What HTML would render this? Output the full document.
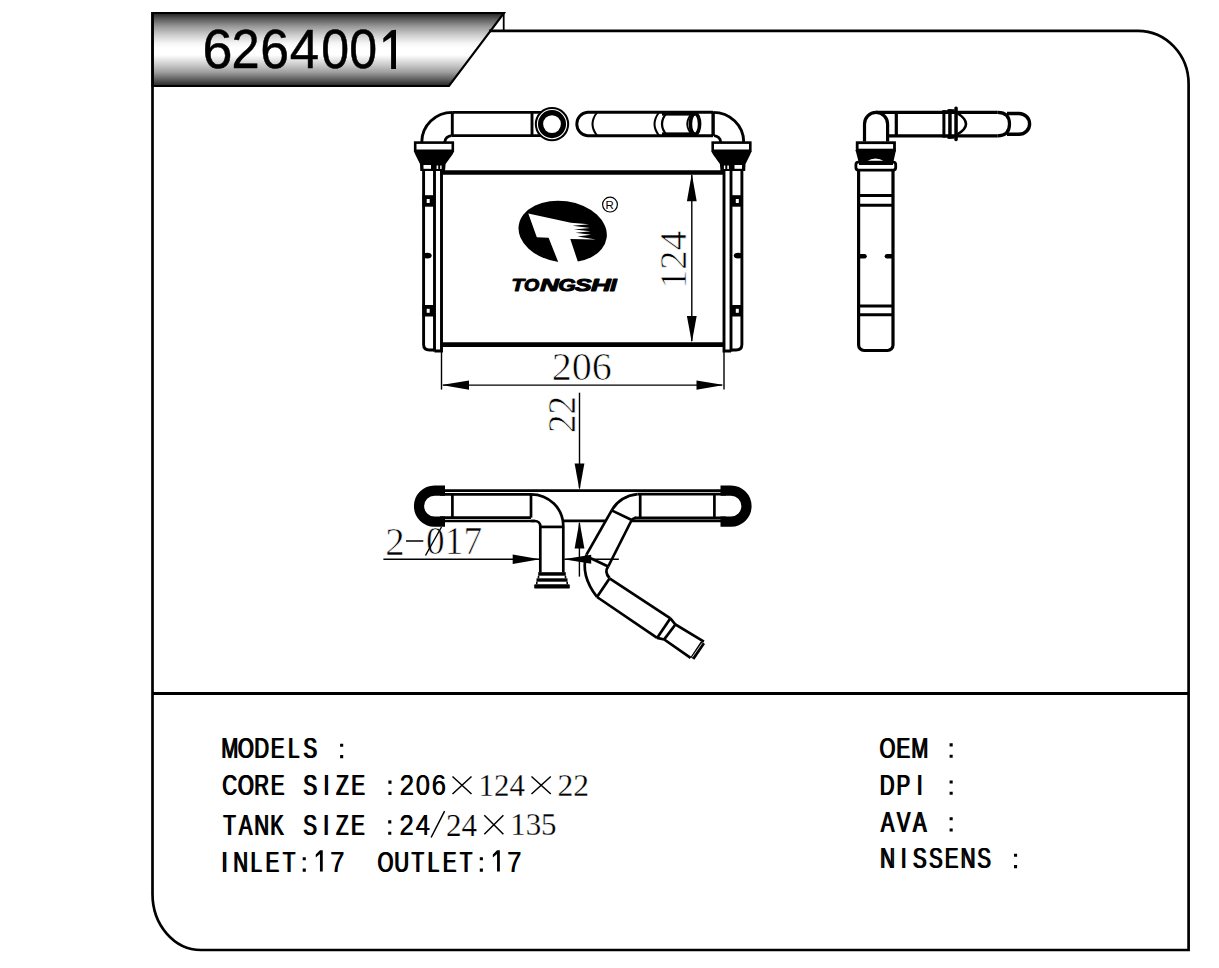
<!DOCTYPE html>
<html><head><meta charset="utf-8"><title>6264001</title>
<style>html,body{margin:0;padding:0;background:#fff;overflow:hidden;width:1219px;height:968px}svg{display:block}</style>
</head><body>
<svg width="1219" height="968" viewBox="0 0 1219 968">
<rect width="1219" height="968" fill="#fff"/>
<defs>
<linearGradient id="bg" x1="0" y1="0" x2="0" y2="1">
<stop offset="0.014" stop-color="#2a2a2a"/>
<stop offset="0.073" stop-color="#555555"/>
<stop offset="0.129" stop-color="#777777"/>
<stop offset="0.185" stop-color="#999999"/>
<stop offset="0.299" stop-color="#cccccc"/>
<stop offset="0.411" stop-color="#f4f4f4"/>
<stop offset="0.479" stop-color="#ffffff"/>
<stop offset="0.575" stop-color="#ffffff"/>
<stop offset="0.695" stop-color="#d0d0d0"/>
<stop offset="0.808" stop-color="#a0a0a0"/>
<stop offset="0.918" stop-color="#5a5a5a"/>
<stop offset="0.978" stop-color="#333333"/>
<stop offset="1.000" stop-color="#222222"/>
</linearGradient>
</defs>
<polygon points="152.5,13 504,13 449,86 152.5,86" fill="url(#bg)" stroke="#000" stroke-width="2.1" stroke-linejoin="miter"/>
<g fill="none" stroke="#000">
<path d="M489 30.8 H1138 A50.6 53.2 0 0 1 1188.6 84 V950 H201 A48.5 56 0 0 1 152.5 894 V12" stroke-width="2.7"/>
<line x1="503.7" y1="13" x2="503.7" y2="30.8" stroke-width="1.8"/>
<line x1="152.5" y1="693.4" x2="1188.6" y2="693.4" stroke-width="3"/>
</g>
<g><path d="M421.8 142 A30.5 29.6 0 0 1 452.3 112.4" stroke-width="2.9" stroke="#000" fill="none"/><path d="M444.9 142 A7 6.4 0 0 1 451.6 135.6" stroke-width="2.9" stroke="#000" fill="none"/><line x1="452.3" y1="112.4" x2="452.3" y2="135.6" stroke-width="2.9" stroke="#000"/><path d="M414 151.5 L454 151.5 L452.5 154.5 L445.6 164 L445 171 L420.3 171 L420 164 L415.5 155 Z" fill="#000"/><rect x="415.2" y="142.6" width="37.6" height="8.2" fill="#fff" stroke="#000" stroke-width="2.6"/><rect x="423.5" y="165" width="7.5" height="3.8" fill="#fff"/><rect x="436.6" y="165.5" width="1.6" height="3.5" fill="#fff"/><rect x="440.2" y="165.5" width="1.4" height="3.5" fill="#fff"/><path d="M423.6 171 V344.5 Q423.6 350 429.5 350 H434.5" stroke-width="2.9" stroke="#000" fill="none"/><line x1="434.5" y1="171" x2="434.5" y2="351.5" stroke-width="2.9" stroke="#000"/><path d="M434.5 351 H441.5 V171" stroke-width="2.9" stroke="#000" fill="none"/><rect x="422.5" y="195.2" width="12" height="11.5" fill="#000"/><rect x="426.7" y="199.0" width="3" height="4" fill="#fff"/><rect x="422.5" y="305" width="12" height="11.5" fill="#000"/><rect x="426.7" y="308.8" width="3" height="4" fill="#fff"/><ellipse cx="427.3" cy="255.6" rx="4.4" ry="2.9" fill="#000"/></g>
<g transform="translate(1165.5,0) scale(-1,1)"><path d="M421.8 142 A30.5 29.6 0 0 1 452.3 112.4" stroke-width="2.9" stroke="#000" fill="none"/><path d="M444.9 142 A7 6.4 0 0 1 451.6 135.6" stroke-width="2.9" stroke="#000" fill="none"/><line x1="452.3" y1="112.4" x2="452.3" y2="135.6" stroke-width="2.9" stroke="#000"/><path d="M414 151.5 L454 151.5 L452.5 154.5 L445.6 164 L445 171 L420.3 171 L420 164 L415.5 155 Z" fill="#000"/><rect x="415.2" y="142.6" width="37.6" height="8.2" fill="#fff" stroke="#000" stroke-width="2.6"/><rect x="423.5" y="165" width="7.5" height="3.8" fill="#fff"/><rect x="436.6" y="165.5" width="1.6" height="3.5" fill="#fff"/><rect x="440.2" y="165.5" width="1.4" height="3.5" fill="#fff"/><path d="M423.6 171 V344.5 Q423.6 350 429.5 350 H434.5" stroke-width="2.9" stroke="#000" fill="none"/><line x1="434.5" y1="171" x2="434.5" y2="351.5" stroke-width="2.9" stroke="#000"/><path d="M434.5 351 H441.5 V171" stroke-width="2.9" stroke="#000" fill="none"/><rect x="422.5" y="195.2" width="12" height="11.5" fill="#000"/><rect x="426.7" y="199.0" width="3" height="4" fill="#fff"/><rect x="422.5" y="305" width="12" height="11.5" fill="#000"/><rect x="426.7" y="308.8" width="3" height="4" fill="#fff"/><ellipse cx="427.3" cy="255.6" rx="4.4" ry="2.9" fill="#000"/></g>
<line x1="440.5" y1="172.5" x2="725" y2="172.5" stroke="#000" stroke-width="4.6"/>
<line x1="440.5" y1="344.6" x2="725" y2="344.6" stroke="#000" stroke-width="4.6"/>
<line x1="452.3" y1="112.4" x2="545" y2="112.4" stroke="#000" stroke-width="2.9"/>
<line x1="451.6" y1="135.6" x2="545" y2="135.6" stroke="#000" stroke-width="2.9"/>
<line x1="532" y1="112.4" x2="532" y2="135.6" stroke="#000" stroke-width="2.9"/>
<circle cx="552" cy="124.1" r="17.2" fill="#000"/>
<circle cx="552" cy="124.1" r="14.6" fill="none" stroke="#fff" stroke-width="1.1"/>
<circle cx="552" cy="124.1" r="8.9" fill="#fff"/>
<path d="M713 112.2 H587.5 A11.8 11.8 0 0 0 587.5 135.7 H713" stroke-width="2.9" stroke="#000" fill="none"/>
<line x1="713" y1="112.2" x2="713" y2="135.7" stroke="#000" stroke-width="2.9"/>
<path d="M597 112.5 Q588 124 597 135.5" stroke-width="2" stroke="#000" fill="none"/>
<path d="M659 112.5 Q650 124 659 135.5" stroke-width="2" stroke="#000" fill="none"/>
<path d="M667 112.5 Q657 124 667 135.5" stroke-width="2.2" stroke="#000" fill="none"/>
<rect x="662" y="111" width="33" height="4.6" fill="#000"/>
<rect x="662" y="132.4" width="33" height="4.6" fill="#000"/>
<ellipse cx="695" cy="124" rx="4.6" ry="10.3" stroke="#000" fill="none" stroke-width="3.6"/>
<path d="M692 113.2 Q682.5 124 692 134.8" stroke-width="1.8" stroke="#000" fill="none"/>
<line x1="691.8" y1="175" x2="691.8" y2="341" stroke="#000" stroke-width="1.4"/>
<polygon points="691.8,173.8 686.9,201.3 696.7,201.3" fill="#000"/>
<polygon points="691.8,342.6 686.9,316 696.7,316" fill="#000"/>
<text transform="translate(686.3,285.6) rotate(-90) translate(-3.4,0) scale(1.004,1)" font-family="Liberation Serif" font-size="38.51" fill="#000" stroke="#fff" stroke-width="0.7" paint-order="fill" style="paint-order:fill stroke">124</text>
<line x1="441.5" y1="352" x2="441.5" y2="389.6" stroke="#000" stroke-width="1.4"/>
<line x1="724" y1="352" x2="724" y2="389.6" stroke="#000" stroke-width="1.4"/>
<line x1="443" y1="385.1" x2="722" y2="385.1" stroke="#000" stroke-width="1.4"/>
<polygon points="441.5,385.1 469,380.4 469,389.8" fill="#000"/>
<polygon points="724,385.1 696.5,380.4 696.5,389.8" fill="#000"/>
<text transform="translate(551.63,380.31) scale(1.0154,1)" font-family="Liberation Serif" font-size="39.57" fill="#000" stroke="#fff" stroke-width="0.7" paint-order="fill" style="paint-order:fill stroke">206</text>
<line x1="579.5" y1="392.7" x2="579.5" y2="488" stroke="#000" stroke-width="1.4"/>
<polygon points="579.5,490.3 574.6,463.4 584.4,463.4" fill="#000"/>
<text transform="translate(574.5,431.3) rotate(-90) translate(-1.62,0) scale(0.9166,1)" font-family="Liberation Serif" font-size="40.33" fill="#000" stroke="#fff" stroke-width="0.7" paint-order="fill" style="paint-order:fill stroke">22</text>
<ellipse cx="562.7" cy="231.6" rx="44.4" ry="30.6" transform="rotate(8 562.7 231.6)" fill="#000"/>
<path d="M528.3 213.5 L570.9 222.7 L589 224.3 L572.5 225.8 L590 227.9 L574 229.4 L590.5 231.3 L575.5 232.8 L591 234.8 L577.5 236.4 L596 239.4 L570.3 239.1 L579.3 266 L559.8 266 L548.6 237.8 L536.8 237.2 Z" fill="#fff"/>
<circle cx="610" cy="204.6" r="7.4" fill="none" stroke="#000" stroke-width="1.2"/>
<text x="605.6" y="208.9" font-family="Liberation Sans" font-size="11.5" fill="#000">R</text>
<g font-family="Liberation Sans" font-weight="bold" font-style="italic" fill="#000" stroke="#000" stroke-width="1.0" stroke-linejoin="round" font-size="17.0"><text transform="translate(511.55,290.6) scale(1.213,1)">T</text><text transform="translate(524.02,290.6) scale(1.152,1)">O</text><text transform="translate(539.91,290.6) scale(1.537,1)">N</text><text transform="translate(558.36,290.6) scale(1.321,1)">G</text><text transform="translate(574.64,290.6) scale(1.489,1)">S</text><text transform="translate(591.12,290.6) scale(1.613,1)">H</text><text transform="translate(609.89,290.6) scale(1.417,1)">I</text></g>
<line x1="440" y1="490.7" x2="726" y2="490.7" stroke="#000" fill="none" stroke-width="2.7"/>
<path d="M445 490.6 H434.5 A15.5 15.5 0 0 0 434.5 521.6 H445" stroke="#000" fill="none" stroke-width="10.2"/>
<path d="M445 490.6 H434.5 A15.5 15.5 0 0 0 434.5 521.6 H445" stroke="#000" fill="none" stroke-width="10.2" transform="translate(1165.5,0) scale(-1,1)"/>
<line x1="440" y1="494.3" x2="531" y2="494.3" stroke="#000" fill="none" stroke-width="2.7"/>
<line x1="440" y1="517.6" x2="531" y2="517.6" stroke="#000" fill="none" stroke-width="2.7"/>
<line x1="440" y1="521" x2="535" y2="521" stroke="#000" fill="none" stroke-width="2.7"/>
<line x1="452.4" y1="494.3" x2="452.4" y2="517.6" stroke="#000" fill="none" stroke-width="2.7"/>
<line x1="531" y1="494.3" x2="531" y2="517.6" stroke="#000" fill="none" stroke-width="2.7"/>
<path d="M531 494.3 A32.3 31.7 0 0 1 563.3 526 V572.4" stroke="#000" fill="none" stroke-width="2.7"/>
<path d="M531 521 H535 A5.3 5.3 0 0 1 540.3 526.3 V572.4" stroke="#000" fill="none" stroke-width="2.7"/>
<line x1="540.3" y1="526.9" x2="563.3" y2="526.9" stroke="#000" fill="none" stroke-width="2.7"/>
<rect x="538.2" y="572.2" width="27.6" height="3.5" fill="#000"/>
<rect x="538.2" y="572.2" width="27.6" height="16" fill="none" stroke="#000" stroke-width="0"/>
<path d="M538.5 575.7 V578.3 M565.5 575.7 V578.3" stroke="#000" stroke-width="1.6"/>
<rect x="536.5" y="578.3" width="31" height="3.4" fill="#000"/>
<path d="M536.8 581.7 V584.3 M567.2 581.7 V584.3" stroke="#000" stroke-width="1.6"/>
<rect x="534.2" y="584.3" width="35.6" height="4.3" rx="1.2" fill="#000"/>
<line x1="563.3" y1="520.9" x2="605.5" y2="520.9" stroke="#000" fill="none" stroke-width="2.7"/>
<line x1="637.6" y1="494.2" x2="726" y2="494.2" stroke="#000" fill="none" stroke-width="2.7"/>
<line x1="640.2" y1="494.2" x2="640.2" y2="517.8" stroke="#000" fill="none" stroke-width="2.7"/>
<line x1="714.4" y1="494.2" x2="714.4" y2="517.8" stroke="#000" fill="none" stroke-width="2.7"/>
<line x1="634.6" y1="517.8" x2="726" y2="517.8" stroke="#000" fill="none" stroke-width="2.7"/>
<line x1="630" y1="520.8" x2="726" y2="520.8" stroke="#000" fill="none" stroke-width="2.7"/>
<path d="M637.6 494.2 A34 30 0 0 0 611.7 510.4" stroke="#000" fill="none" stroke-width="2.7"/>
<line x1="611.7" y1="510.4" x2="631.7" y2="520" stroke="#000" fill="none" stroke-width="2.7"/>
<path d="M636 517.8 Q632.5 518.5 631.7 520.5" stroke="#000" fill="none" stroke-width="2.7"/>
<line x1="611.7" y1="510.4" x2="586.5" y2="554.6" stroke="#000" fill="none" stroke-width="2.7"/>
<line x1="631.7" y1="520" x2="608.2" y2="566.5" stroke="#000" fill="none" stroke-width="2.7"/>
<line x1="590.7" y1="558.2" x2="608.2" y2="566.5" stroke="#000" fill="none" stroke-width="2.7"/>
<path d="M586.5 554.6 Q580 575 597 597" stroke="#000" fill="none" stroke-width="2.7"/>
<path d="M608.2 566.5 Q604 572 609.5 578" stroke="#000" fill="none" stroke-width="2.7"/>
<line x1="597" y1="597" x2="609.5" y2="578.5" stroke="#000" fill="none" stroke-width="2.7"/>
<line x1="609.5" y1="578.3" x2="670.4" y2="618.3" stroke="#000" fill="none" stroke-width="2.7"/>
<line x1="597" y1="597" x2="657.1" y2="637.9" stroke="#000" fill="none" stroke-width="2.7"/>
<line x1="657.1" y1="637.9" x2="670.4" y2="618.3" stroke="#000" fill="none" stroke-width="2.7"/>
<polyline points="670.4,618.3 675.4,624.5 703.9,641.6" stroke="#000" fill="none" stroke-width="2.7"/>
<polyline points="657.1,637.9 664.2,639.4 690.6,657.9" stroke="#000" fill="none" stroke-width="2.7"/>
<line x1="664.2" y1="639.4" x2="675.4" y2="624.5" stroke="#000" fill="none" stroke-width="2.7"/>
<line x1="703" y1="642.6" x2="692.4" y2="658.5" stroke="#000" stroke-width="4.8"/>
<line x1="702" y1="643.2" x2="692.2" y2="657.3" stroke="#fff" stroke-width="0.8"/>
<line x1="579.4" y1="523" x2="579.4" y2="576.6" stroke="#000" stroke-width="1.4"/>
<polygon points="579.5,521.2 574.6,548.6 584.4,548.6" fill="#000"/>
<path d="M383.4 559.2 H539 M564.5 559.2 H618.8" stroke="#000" stroke-width="1.4" fill="none"/>
<polygon points="540,559.2 512.7,554.5 512.7,563.9" fill="#000"/>
<polygon points="563.5,559.2 591.2,554.7 591.2,563.7" fill="#000"/>
<text transform="translate(385.19,554.7) scale(0.9508,1)" font-family="Liberation Serif" font-size="40.93" fill="#000" stroke="#fff" stroke-width="0.7" paint-order="fill" style="paint-order:fill stroke">2</text>
<line x1="406" y1="541" x2="423.3" y2="541" stroke="#000" stroke-width="1.5"/>
<text transform="translate(426.08,554.31) scale(0.9296,1)" font-family="Liberation Serif" font-size="40.16" fill="#000" stroke="#fff" stroke-width="0.7" paint-order="fill" style="paint-order:fill stroke">017</text>
<line x1="425.5" y1="555.5" x2="441.5" y2="527" stroke="#000" stroke-width="1.4"/>
<path d="M864.5 141.5 V124 A11.55 11.55 0 0 1 876 112.4 H997.7" stroke="#000" fill="none" stroke-width="3.2"/>
<path d="M887.6 141.5 V124 A11.55 11.55 0 0 0 876 112.4" stroke="#000" fill="none" stroke-width="3.2"/>
<line x1="887.6" y1="135.8" x2="997.7" y2="135.8" stroke="#000" fill="none" stroke-width="3.2"/>
<line x1="896.3" y1="112.4" x2="896.3" y2="135.8" stroke="#000" fill="none" stroke-width="3.2"/>
<rect x="942.4" y="110.4" width="3" height="26.9" fill="#000"/>
<rect x="948.2" y="109.3" width="3.5" height="29.3" fill="#000"/>
<rect x="954.3" y="106.5" width="3.5" height="34.7" rx="1.6" fill="#000"/>
<path d="M942.4 111.3 H948.5 V110.2 H954.5 M942.4 136.4 H948.5 V137.7 H954.5" stroke="#000" fill="none" stroke-width="2"/>
<path d="M957 113 Q975 124 957 134.5" stroke="#000" fill="none" stroke-width="2.6"/>
<path d="M997.7 112.4 Q1009.5 112.5 1009.5 124 Q1009.5 135.8 997.7 135.8" stroke="#000" fill="none" stroke-width="3.2"/>
<path d="M1007 113.5 H1019 A10.6 10.4 0 0 1 1019 134.3 H1007" stroke="#000" fill="none" stroke-width="3.4"/>
<path d="M855.5 150 H896 L893.5 161.5 H884.5 Q875.5 155.5 866.5 161.5 H858.5 Z" fill="#000"/>
<rect x="857.2" y="142.7" width="37.3" height="7.4" fill="#fff" stroke="#000" stroke-width="2.8"/>
<rect x="855.9" y="162.1" width="39.8" height="8" rx="2.5" fill="#fff" stroke="#000" stroke-width="2.8"/>
<rect x="859" y="161" width="34" height="4" fill="#000"/>
<path d="M858.6 170 V345 A5.5 5.5 0 0 0 864.1 350.5 H887.5 A5.5 5.5 0 0 0 893 345 V170" stroke="#000" fill="none" stroke-width="3.2"/>
<line x1="858.6" y1="195.5" x2="893" y2="195.5" stroke="#000" stroke-width="3.1"/>
<line x1="858.6" y1="205.3" x2="893" y2="205.3" stroke="#000" stroke-width="3.1"/>
<line x1="858.6" y1="306" x2="893" y2="306" stroke="#000" stroke-width="3.1"/>
<line x1="858.6" y1="314.7" x2="893" y2="314.7" stroke="#000" stroke-width="3.1"/>
<path d="M860 256.3 H864.5" stroke="#000" stroke-width="4.6" stroke-linecap="round"/>
<path d="M887 256.3 H891.5" stroke="#000" stroke-width="4.6" stroke-linecap="round"/>
<path d="M340.10 743.75h3.1v3.1h-3.1z M340.10 755.05h3.1v3.1h-3.1z" fill="#000"/>
<g transform="translate(-0.65,0)" font-family="Liberation Sans" font-size="30.4" fill="#000"><text transform="translate(221.33,758.1) scale(0.665,1)">M</text><text transform="translate(237.99,758.1) scale(0.665,1)">O</text><text transform="translate(254.3,758.1) scale(0.665,1)">D</text><text transform="translate(270.91,758.1) scale(0.665,1)">E</text><text transform="translate(288.03,758.1) scale(0.665,1)">L</text><text transform="translate(303.51,758.1) scale(0.665,1)">S</text></g>
<g transform="translate(0.65,0)" font-family="Liberation Sans" font-size="30.4" fill="#000"><text transform="translate(221.33,758.1) scale(0.665,1)">M</text><text transform="translate(237.99,758.1) scale(0.665,1)">O</text><text transform="translate(254.3,758.1) scale(0.665,1)">D</text><text transform="translate(270.91,758.1) scale(0.665,1)">E</text><text transform="translate(288.03,758.1) scale(0.665,1)">L</text><text transform="translate(303.51,758.1) scale(0.665,1)">S</text></g>
<path d="M388.40 780.55h3.1v3.1h-3.1z M388.40 791.85h3.1v3.1h-3.1z" fill="#000"/>
<g transform="translate(-0.65,0)" font-family="Liberation Sans" font-size="30.4" fill="#000"><text transform="translate(222.32,794.9) scale(0.665,1)">C</text><text transform="translate(237.99,794.9) scale(0.665,1)">O</text><text transform="translate(254.29,794.9) scale(0.665,1)">R</text><text transform="translate(270.91,794.9) scale(0.665,1)">E</text><text transform="translate(303.51,794.9) scale(0.665,1)">S</text><text transform="translate(323.54,794.9) scale(0.665,1)">I</text><text transform="translate(336.27,794.9) scale(0.665,1)">Z</text><text transform="translate(351.41,794.9) scale(0.665,1)">E</text></g>
<g transform="translate(0.65,0)" font-family="Liberation Sans" font-size="30.4" fill="#000"><text transform="translate(222.32,794.9) scale(0.665,1)">C</text><text transform="translate(237.99,794.9) scale(0.665,1)">O</text><text transform="translate(254.29,794.9) scale(0.665,1)">R</text><text transform="translate(270.91,794.9) scale(0.665,1)">E</text><text transform="translate(303.51,794.9) scale(0.665,1)">S</text><text transform="translate(323.54,794.9) scale(0.665,1)">I</text><text transform="translate(336.27,794.9) scale(0.665,1)">Z</text><text transform="translate(351.41,794.9) scale(0.665,1)">E</text></g>
<g transform="translate(-0.25,0)" font-family="Liberation Sans" font-size="30.4" fill="#000"><text transform="translate(399.75,794.9) scale(0.84,1)">2</text><text transform="translate(415.85,794.9) scale(0.84,1)">0</text><text transform="translate(431.86,794.9) scale(0.84,1)">6</text></g>
<g transform="translate(0.25,0)" font-family="Liberation Sans" font-size="30.4" fill="#000"><text transform="translate(399.75,794.9) scale(0.84,1)">2</text><text transform="translate(415.85,794.9) scale(0.84,1)">0</text><text transform="translate(431.86,794.9) scale(0.84,1)">6</text></g>
<path d="M388.20 820.35h3.1v3.1h-3.1z M388.20 831.65h3.1v3.1h-3.1z" fill="#000"/>
<g transform="translate(-0.65,0)" font-family="Liberation Sans" font-size="30.4" fill="#000"><text transform="translate(223.38,834.7) scale(0.665,1)">T</text><text transform="translate(238.91,834.7) scale(0.665,1)">A</text><text transform="translate(254.45,834.7) scale(0.665,1)">N</text><text transform="translate(270.39,834.7) scale(0.665,1)">K</text><text transform="translate(303.31,834.7) scale(0.665,1)">S</text><text transform="translate(323.34,834.7) scale(0.665,1)">I</text><text transform="translate(336.07,834.7) scale(0.665,1)">Z</text><text transform="translate(351.21,834.7) scale(0.665,1)">E</text></g>
<g transform="translate(0.65,0)" font-family="Liberation Sans" font-size="30.4" fill="#000"><text transform="translate(223.38,834.7) scale(0.665,1)">T</text><text transform="translate(238.91,834.7) scale(0.665,1)">A</text><text transform="translate(254.45,834.7) scale(0.665,1)">N</text><text transform="translate(270.39,834.7) scale(0.665,1)">K</text><text transform="translate(303.31,834.7) scale(0.665,1)">S</text><text transform="translate(323.34,834.7) scale(0.665,1)">I</text><text transform="translate(336.07,834.7) scale(0.665,1)">Z</text><text transform="translate(351.21,834.7) scale(0.665,1)">E</text></g>
<g transform="translate(-0.25,0)" font-family="Liberation Sans" font-size="30.4" fill="#000"><text transform="translate(399.55,834.7) scale(0.84,1)">2</text><text transform="translate(415.73,834.7) scale(0.84,1)">4</text></g>
<g transform="translate(0.25,0)" font-family="Liberation Sans" font-size="30.4" fill="#000"><text transform="translate(399.55,834.7) scale(0.84,1)">2</text><text transform="translate(415.73,834.7) scale(0.84,1)">4</text></g>
<path d="M302.70 857.25h3.1v3.1h-3.1z M302.70 868.55h3.1v3.1h-3.1z" fill="#000"/>
<path d="M319.95 850.30 H322.75 V871.60 H319.95 V854.00 L315.75 857.40 V854.60 Z" fill="#000"/>
<path d="M479.80 857.25h3.1v3.1h-3.1z M479.80 868.55h3.1v3.1h-3.1z" fill="#000"/>
<path d="M497.05 850.30 H499.85 V871.60 H497.05 V854.00 L492.85 857.40 V854.60 Z" fill="#000"/>
<g transform="translate(-0.65,0)" font-family="Liberation Sans" font-size="30.4" fill="#000"><text transform="translate(221.74,871.6) scale(0.665,1)">I</text><text transform="translate(233.35,871.6) scale(0.665,1)">N</text><text transform="translate(250.63,871.6) scale(0.665,1)">L</text><text transform="translate(265.71,871.6) scale(0.665,1)">E</text><text transform="translate(282.78,871.6) scale(0.665,1)">T</text><text transform="translate(377.69,871.6) scale(0.665,1)">O</text><text transform="translate(394.35,871.6) scale(0.665,1)">U</text><text transform="translate(411.58,871.6) scale(0.665,1)">T</text><text transform="translate(427.73,871.6) scale(0.665,1)">L</text><text transform="translate(442.81,871.6) scale(0.665,1)">E</text><text transform="translate(459.88,871.6) scale(0.665,1)">T</text></g>
<g transform="translate(0.65,0)" font-family="Liberation Sans" font-size="30.4" fill="#000"><text transform="translate(221.74,871.6) scale(0.665,1)">I</text><text transform="translate(233.35,871.6) scale(0.665,1)">N</text><text transform="translate(250.63,871.6) scale(0.665,1)">L</text><text transform="translate(265.71,871.6) scale(0.665,1)">E</text><text transform="translate(282.78,871.6) scale(0.665,1)">T</text><text transform="translate(377.69,871.6) scale(0.665,1)">O</text><text transform="translate(394.35,871.6) scale(0.665,1)">U</text><text transform="translate(411.58,871.6) scale(0.665,1)">T</text><text transform="translate(427.73,871.6) scale(0.665,1)">L</text><text transform="translate(442.81,871.6) scale(0.665,1)">E</text><text transform="translate(459.88,871.6) scale(0.665,1)">T</text></g>
<g transform="translate(-0.25,0)" font-family="Liberation Sans" font-size="30.4" fill="#000"><text transform="translate(330.14,871.6) scale(0.84,1)">7</text><text transform="translate(507.24,871.6) scale(0.84,1)">7</text></g>
<g transform="translate(0.25,0)" font-family="Liberation Sans" font-size="30.4" fill="#000"><text transform="translate(330.14,871.6) scale(0.84,1)">7</text><text transform="translate(507.24,871.6) scale(0.84,1)">7</text></g>
<path d="M949.60 743.35h3.1v3.1h-3.1z M949.60 754.65h3.1v3.1h-3.1z" fill="#000"/>
<g transform="translate(-0.65,0)" font-family="Liberation Sans" font-size="30.4" fill="#000"><text transform="translate(879.69,757.7) scale(0.665,1)">O</text><text transform="translate(896.51,757.7) scale(0.665,1)">E</text><text transform="translate(911.33,757.7) scale(0.665,1)">M</text></g>
<g transform="translate(0.65,0)" font-family="Liberation Sans" font-size="30.4" fill="#000"><text transform="translate(879.69,757.7) scale(0.665,1)">O</text><text transform="translate(896.51,757.7) scale(0.665,1)">E</text><text transform="translate(911.33,757.7) scale(0.665,1)">M</text></g>
<path d="M949.60 780.45h3.1v3.1h-3.1z M949.60 791.75h3.1v3.1h-3.1z" fill="#000"/>
<g transform="translate(-0.65,0)" font-family="Liberation Sans" font-size="30.4" fill="#000"><text transform="translate(879.9,794.8) scale(0.665,1)">D</text><text transform="translate(896.61,794.8) scale(0.665,1)">P</text><text transform="translate(916.94,794.8) scale(0.665,1)">I</text></g>
<g transform="translate(0.65,0)" font-family="Liberation Sans" font-size="30.4" fill="#000"><text transform="translate(879.9,794.8) scale(0.665,1)">D</text><text transform="translate(896.61,794.8) scale(0.665,1)">P</text><text transform="translate(916.94,794.8) scale(0.665,1)">I</text></g>
<path d="M949.60 817.15h3.1v3.1h-3.1z M949.60 828.45h3.1v3.1h-3.1z" fill="#000"/>
<g transform="translate(-0.65,0)" font-family="Liberation Sans" font-size="30.4" fill="#000"><text transform="translate(880.81,831.5) scale(0.665,1)">A</text><text transform="translate(896.91,831.5) scale(0.665,1)">V</text><text transform="translate(913.01,831.5) scale(0.665,1)">A</text></g>
<g transform="translate(0.65,0)" font-family="Liberation Sans" font-size="30.4" fill="#000"><text transform="translate(880.81,831.5) scale(0.665,1)">A</text><text transform="translate(896.91,831.5) scale(0.665,1)">V</text><text transform="translate(913.01,831.5) scale(0.665,1)">A</text></g>
<path d="M1014.00 853.75h3.1v3.1h-3.1z M1014.00 865.05h3.1v3.1h-3.1z" fill="#000"/>
<g transform="translate(-0.65,0)" font-family="Liberation Sans" font-size="30.4" fill="#000"><text transform="translate(880.25,868.1) scale(0.665,1)">N</text><text transform="translate(900.84,868.1) scale(0.665,1)">I</text><text transform="translate(913.01,868.1) scale(0.665,1)">S</text><text transform="translate(929.11,868.1) scale(0.665,1)">S</text><text transform="translate(944.81,868.1) scale(0.665,1)">E</text><text transform="translate(960.75,868.1) scale(0.665,1)">N</text><text transform="translate(977.41,868.1) scale(0.665,1)">S</text></g>
<g transform="translate(0.65,0)" font-family="Liberation Sans" font-size="30.4" fill="#000"><text transform="translate(880.25,868.1) scale(0.665,1)">N</text><text transform="translate(900.84,868.1) scale(0.665,1)">I</text><text transform="translate(913.01,868.1) scale(0.665,1)">S</text><text transform="translate(929.11,868.1) scale(0.665,1)">S</text><text transform="translate(944.81,868.1) scale(0.665,1)">E</text><text transform="translate(960.75,868.1) scale(0.665,1)">N</text><text transform="translate(977.41,868.1) scale(0.665,1)">S</text></g>
<path d="M452.5 776.5 L471.5 794 M471.5 776.5 L452.5 794" stroke="#000" stroke-width="1.5" fill="none"/>
<text transform="translate(478.59,795.6) scale(1.0066,1)" font-family="Liberation Serif" font-size="30.66" fill="#000" stroke="#fff" stroke-width="0.25" paint-order="fill" style="paint-order:fill stroke">124</text>
<path d="M531.5 776.5 L550.8 794 M550.8 776.5 L531.5 794" stroke="#000" stroke-width="1.5" fill="none"/>
<text transform="translate(557.41,795.6) scale(1.0282,1)" font-family="Liberation Serif" font-size="30.66" fill="#000" stroke="#fff" stroke-width="0.25" paint-order="fill" style="paint-order:fill stroke">22</text>
<line x1="444.6" y1="811.1" x2="431.1" y2="837.5" stroke="#000" stroke-width="1.5"/>
<text transform="translate(445.93,835.5) scale(0.9685,1)" font-family="Liberation Serif" font-size="32.17" fill="#000" stroke="#fff" stroke-width="0.25" paint-order="fill" style="paint-order:fill stroke">24</text>
<path d="M484.3 815.2 L503.4 834.2 M503.4 815.2 L484.3 834.2" stroke="#000" stroke-width="1.5" fill="none"/>
<text transform="translate(510.18,835.39) scale(0.9673,1)" font-family="Liberation Serif" font-size="32.0" fill="#000" stroke="#fff" stroke-width="0.25" paint-order="fill" style="paint-order:fill stroke">135</text>
<g font-family="Liberation Sans" fill="#000" stroke="#000" stroke-width="0.5" font-size="54.6"><text transform="translate(202.42,68.3) scale(0.985,1)">6</text><text transform="translate(231.49,68.3) scale(0.926,1)">2</text><text transform="translate(260.31,68.3) scale(0.946,1)">6</text><text transform="translate(289.63,68.3) scale(0.967,1)">4</text><text transform="translate(321.37,68.3) scale(0.917,1)">0</text><text transform="translate(349.37,68.3) scale(0.917,1)">0</text></g>
<path d="M396 29.8 V68.9 H391.1 V37.2 L383.3 42.6 V38.3 L391.5 30.2 Z" fill="#000"/>
</svg></body></html>
